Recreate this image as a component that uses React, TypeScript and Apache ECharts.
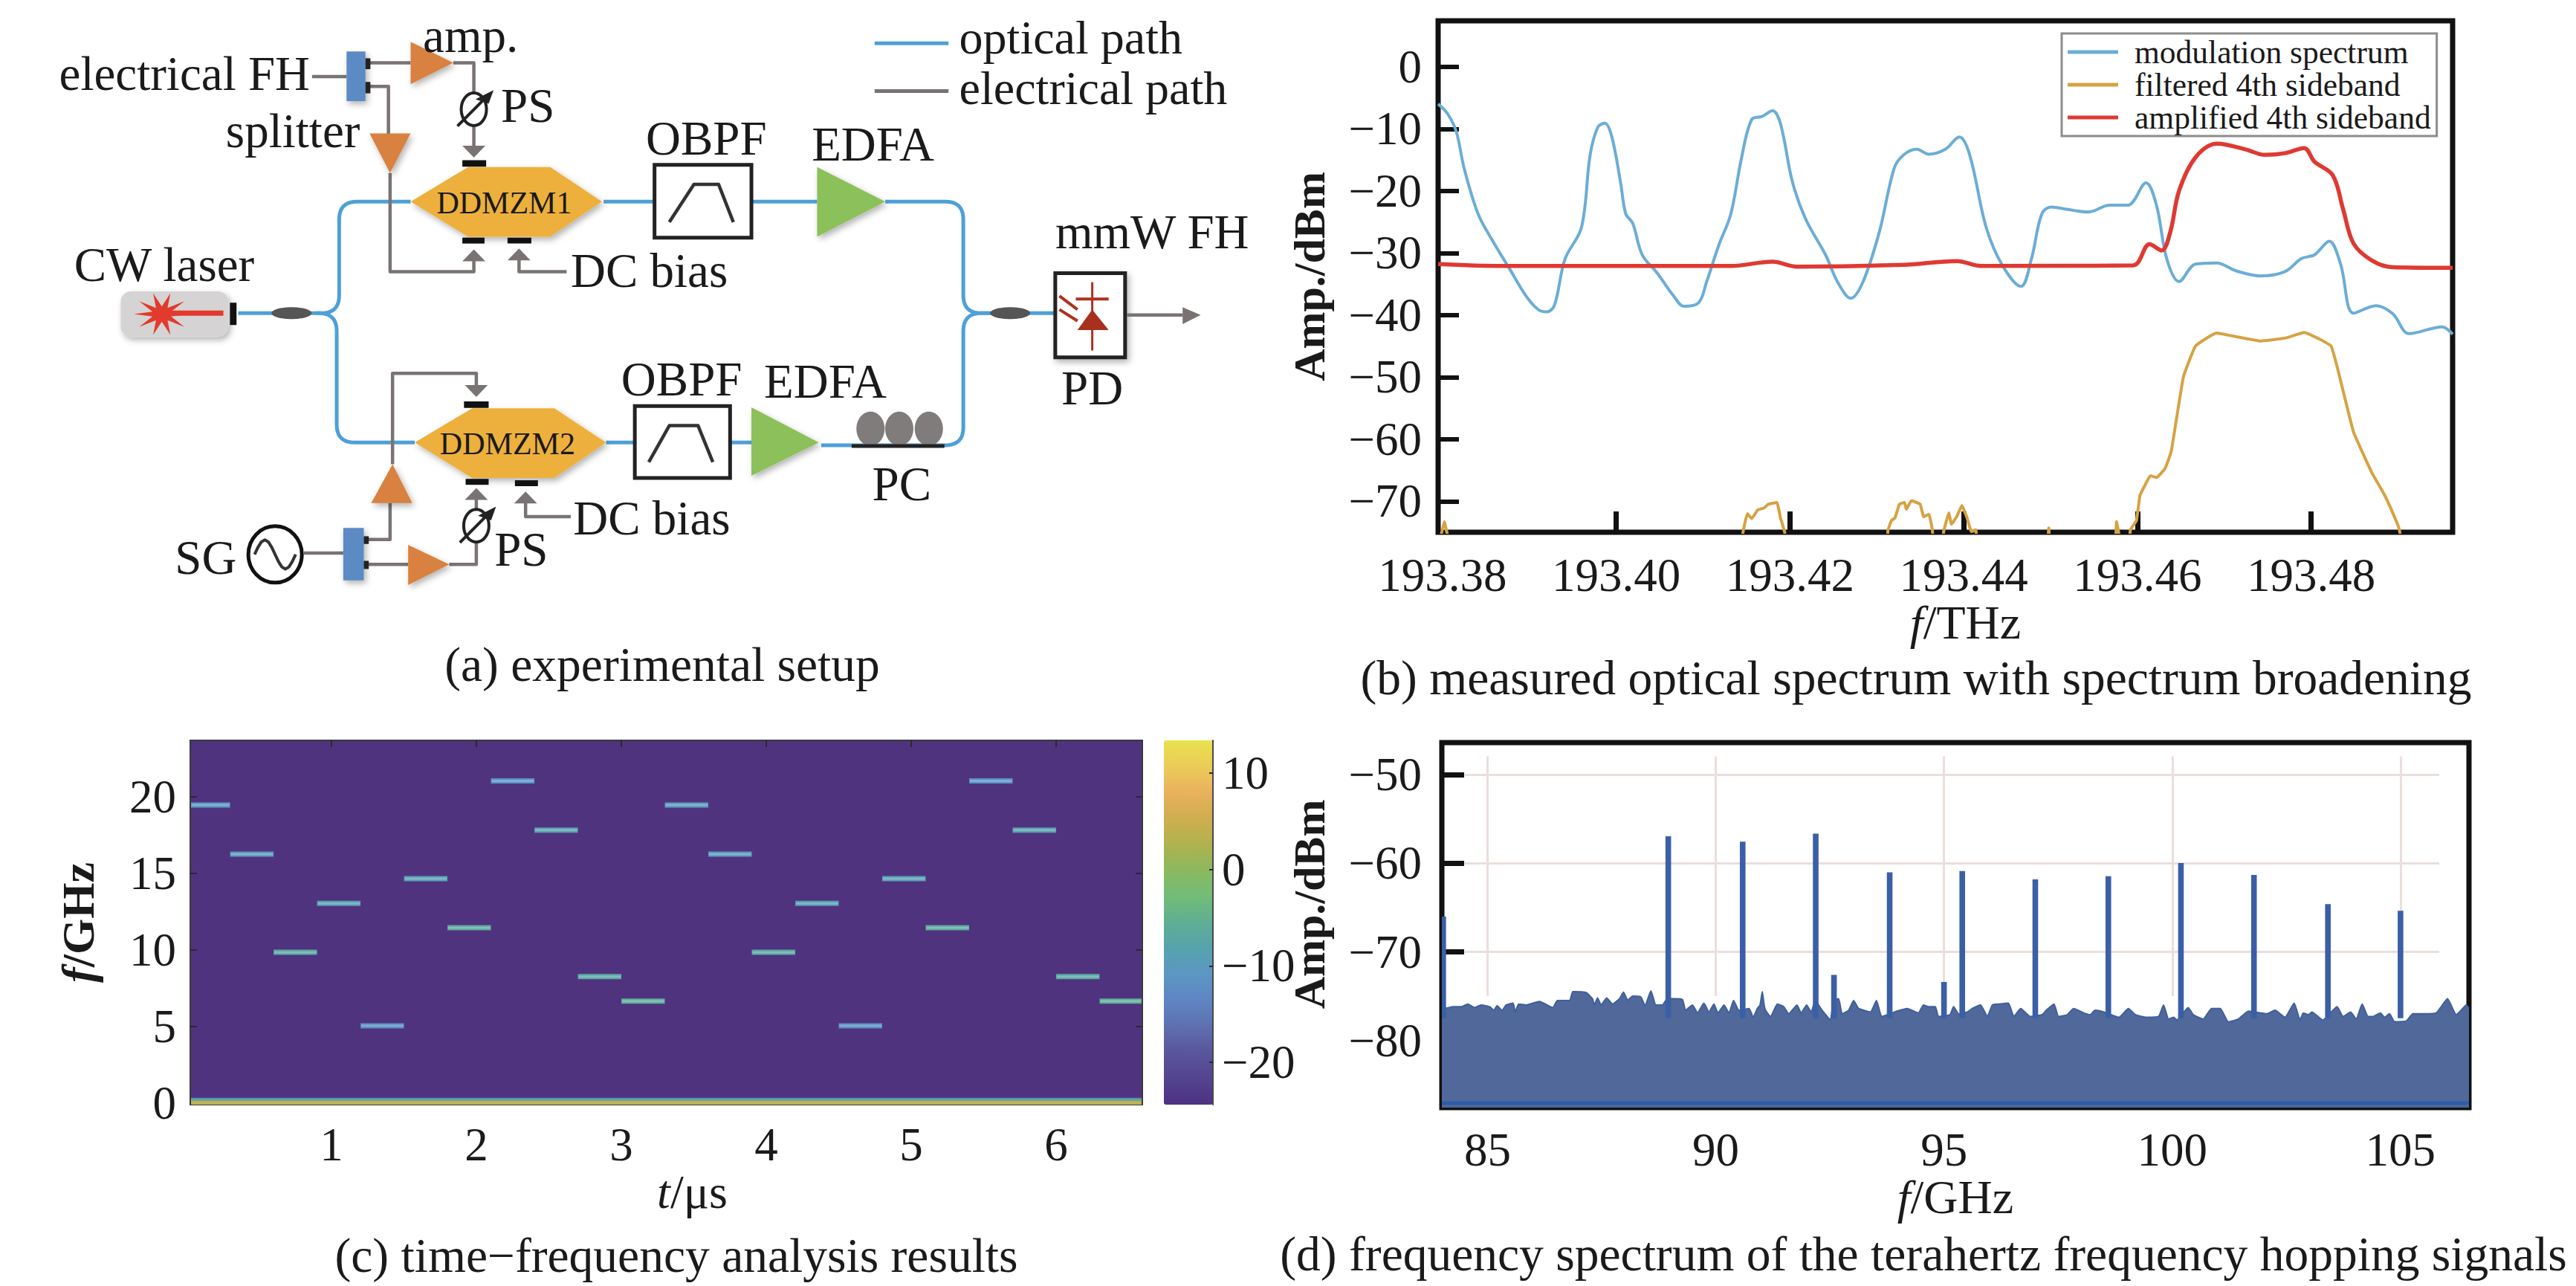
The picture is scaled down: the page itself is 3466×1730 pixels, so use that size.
import React, { useEffect, useRef } from "react";
import * as echarts from "echarts";

const SERIF = "Liberation Serif";

// ---------- (b) optical spectrum ----------
const bXTicks = [193.38, 193.4, 193.42, 193.44, 193.46, 193.48];
const bXTickMarks = [193.4, 193.42, 193.44, 193.46, 193.48];
const bYTicks = [0, -10, -20, -30, -40, -50, -60, -70];
const modulationSpectrum: [number, number][] = [
  [193.3795, -6], [193.3806, -7.6], [193.3816, -10.5], [193.3825, -16.4], [193.3841, -23.7], [193.3858, -28.1],
  [193.3877, -32.5], [193.3896, -36.9], [193.391, -39.1], [193.392, -39.5], [193.3929, -38.4], [193.3941, -31],
  [193.396, -25.9], [193.397, -14.2], [193.3979, -9.7], [193.3987, -9.1], [193.3995, -11.3], [193.4005, -18.6],
  [193.4011, -23.7], [193.4019, -25.2], [193.403, -30.3], [193.4047, -33.2], [193.4066, -36.9], [193.4078, -38.6],
  [193.4095, -38], [193.4104, -34.7], [193.4118, -28.8], [193.4132, -23.7], [193.4144, -14.9], [193.4156, -8.5],
  [193.4168, -8], [193.418, -7.1], [193.4189, -9.1], [193.4203, -18.6], [193.4218, -24.5], [193.4241, -30.3],
  [193.4255, -34.7], [193.427, -37.3], [193.4284, -34.7], [193.4303, -26.6], [193.432, -16.4], [193.4331, -14.2],
  [193.4346, -13.3], [193.436, -14.1], [193.4379, -13.3], [193.4395, -11.3], [193.4407, -14.2], [193.4426, -25.9],
  [193.4445, -32.1], [193.4466, -35.4], [193.4478, -31], [193.449, -23.7], [193.4501, -22.6], [193.452, -23],
  [193.4544, -23.4], [193.4568, -22.3], [193.4589, -22.3], [193.461, -18.7], [193.4622, -22.3], [193.4634, -31],
  [193.4648, -34.6], [193.4667, -31.8], [193.4691, -31.6], [193.4714, -32.9], [193.4742, -33.7], [193.477, -33],
  [193.4789, -30.9], [193.4804, -30.3], [193.4821, -28.1], [193.4834, -31.8], [193.4849, -39.7], [193.4875, -38.5],
  [193.4894, -39.8], [193.4913, -43], [193.4951, -41.9], [193.4963, -43.1],
];
const filteredSideband: [number, number][] = [
  [193.3795, -78], [193.3802, -73.3], [193.3812, -78], [193.4143, -78], [193.4146, -75], [193.4151, -72], [193.4156, -72.8],
  [193.4163, -71.4], [193.417, -71.1], [193.4175, -70.5], [193.4185, -70.2], [193.4189, -72.6], [193.4194, -75], [193.4197, -78],
  [193.431, -78], [193.4313, -74.6], [193.4317, -73.1], [193.4321, -72.7], [193.4326, -70.5], [193.4332, -70.2], [193.4334, -71.3],
  [193.434, -69.9], [193.435, -70.5], [193.4354, -72.5], [193.436, -72.1], [193.4364, -74.6], [193.4366, -78], [193.4375, -78],
  [193.4377, -74.9], [193.4383, -71.9], [193.4386, -73.7], [193.4392, -72.5], [193.4398, -70.7], [193.4404, -72.7], [193.4409, -74.9],
  [193.4414, -74.6], [193.4417, -78], [193.4495, -78], [193.4498, -74.3], [193.4501, -78], [193.4573, -78], [193.4576, -73.3], [193.458, -76], [193.459, -78],
  [193.4592, -74.6], [193.4599, -73.1], [193.4603, -69.1], [193.461, -67.1], [193.4615, -65.9], [193.4622, -66.2], [193.4632, -64.7],
  [193.4639, -62], [193.4653, -50], [193.4667, -45], [193.4691, -42.9], [193.4714, -43.5], [193.4742, -44.2], [193.4771, -43.7],
  [193.4792, -42.8], [193.4823, -45], [193.4837, -52.3], [193.4849, -58.9], [193.487, -65.4], [193.4885, -69.1], [193.4899, -73.5],
  [193.4902, -74.8], [193.4906, -78], [193.4963, -78],
];
const amplifiedSideband: [number, number][] = [
  [193.3795, -31.8], [193.3868, -32.1], [193.4, -32.1], [193.4132, -32.1], [193.418, -31.4], [193.4208, -32.2],
  [193.4331, -31.9], [193.4392, -31.3], [193.442, -32.1], [193.4595, -32], [193.4614, -28.6], [193.4628, -29.6],
  [193.4638, -26.6], [193.4648, -20], [193.4667, -14.6], [193.4692, -12.4], [193.4724, -13.3], [193.4747, -14.2],
  [193.4771, -13.9], [193.4792, -13.1], [193.4804, -15.3], [193.4825, -17.5], [193.4837, -23], [193.4849, -28.5],
  [193.487, -31.2], [193.4894, -32.3], [193.4963, -32.4],
];

// ---------- (c) time-frequency map ----------
const cXTicks = [1, 2, 3, 4, 5, 6];
const cYTicks = [0, 5, 10, 15, 20];
const cbTicks = [10, 0, -10, -20];
const hopStart = [0.03, 0.3, 0.6, 0.9, 1.2, 1.5, 1.8, 2.1, 2.4, 2.7, 3.0, 3.3, 3.6, 3.9, 4.2, 4.5, 4.8, 5.1, 5.4, 5.7, 6.0, 6.3];
const hopEnd = [0.3, 0.6, 0.9, 1.2, 1.5, 1.8, 2.1, 2.4, 2.7, 3.0, 3.3, 3.6, 3.9, 4.2, 4.5, 4.8, 5.1, 5.4, 5.7, 6.0, 6.3, 6.59];
const hopFreq = [19.45, 16.24, 9.83, 13.02, 5.03, 14.64, 11.43, 21.02, 17.81, 8.24, 6.64, 19.45, 16.24, 9.83, 13.02, 5.03, 14.64, 11.43, 21.02, 17.81, 8.24, 6.64];
const hopPower = [-10.5, -10, -7, -9, -12, -9, -6.5, -11, -8.5, -7, -6, -10, -10, -7, -9, -12, -9, -6.5, -11, -8.5, -7, -6];
const baseBandFreq = [0, 0.195, 0.3];
const baseBandPower = [4, -7, -15];
const baseBandThick = [0.24, 0.15, 0.06];
const colorStops = ["#4e3184", "#53448f", "#5a559c", "#5e6fb0", "#5f85c2", "#5c96c4", "#56a3ae", "#5fae94", "#72bc78", "#8bb95f", "#b0b24f", "#cfae4f", "#e9b15e", "#eccb58", "#e8e24e"];

// ---------- (d) frequency spectrum ----------
const dXTicks = [85, 90, 95, 100, 105];
const dYTicks = [-50, -60, -70, -80];
const dGridX = [85, 90, 95, 100, 105];
const dGridY = [-50, -60, -70];
const floorBand: [number, number][] = [[84, -87.1], [106.5, -87.1]];
const noiseFloor: [number, number][] = [
  [84.0, -76.4], [84.06, -76.4], [84.25, -76.2], [84.43, -76.2], [84.57, -75.9], [84.72, -76.3], [84.86, -76], [85.05, -76.2], [85.14, -76.6], [85.21, -76.1],
  [85.32, -76.6], [85.41, -76], [85.56, -75.8], [85.61, -76.8], [85.68, -75.9], [85.85, -76], [86.14, -75.6], [86.43, -76.3], [86.53, -75.5], [86.8, -75.5],
  [86.87, -74.5], [87.16, -74.6], [87.3, -75.3], [87.34, -76], [87.41, -75.2], [87.49, -76], [87.61, -75.2], [87.74, -75.9], [87.89, -75.3], [87.98, -74.55],
  [88.07, -75.45], [88.18, -75], [88.36, -75.1], [88.45, -76.1], [88.58, -74.4], [88.69, -76], [88.83, -76], [88.94, -75.3], [89.09, -75.3], [89.27, -75.4],
  [89.34, -76.6], [89.49, -76], [89.6, -76.9], [89.74, -75.8], [89.85, -76.8], [89.96, -75.9], [90.05, -76.9], [90.18, -76], [90.29, -76.9], [90.39, -75.5],
  [90.51, -76.6], [90.73, -76.4], [90.82, -77.4], [90.91, -76.4], [90.97, -76], [91.02, -74.5], [91.06, -76], [91.09, -76.6], [91.2, -77.3], [91.35, -75.9], [91.49, -76.2],
  [91.6, -77], [91.78, -76], [91.87, -76.9], [91.99, -76], [92.09, -76.8], [92.18, -75.5], [92.33, -76.6], [92.51, -77.65], [92.58, -75.5], [92.69, -75.3],
  [92.77, -77], [92.91, -76.6], [93.02, -75.5], [93.13, -76.4], [93.39, -76.8], [93.52, -75.5], [93.64, -77.3], [93.97, -76.7], [94.19, -76.4], [94.44, -76.9],
  [94.55, -76], [94.66, -76.2], [94.81, -76.2], [94.88, -77.3], [95.13, -77.1], [95.21, -76.2], [95.32, -77], [95.51, -76.8], [95.62, -76.4], [95.8, -76],
  [95.95, -77.3], [96.06, -76], [96.2, -75.9], [96.41, -75.8], [96.53, -77.3], [96.68, -76.4], [96.89, -77.3], [97.15, -77.1], [97.24, -76.6], [97.41, -75.9],
  [97.51, -77.3], [97.7, -77.1], [97.84, -76.4], [98.06, -76.9], [98.2, -77.1], [98.31, -76.6], [98.5, -76.8], [98.83, -77.4], [99.04, -76.4], [99.19, -77.1],
  [99.44, -77.4], [99.7, -77.3], [99.81, -76], [99.92, -77.6], [100.03, -77.4], [100.1, -77.7], [100.35, -76.3], [100.46, -77.1], [100.68, -77.6], [100.86, -76.4],
  [101.05, -76.4], [101.23, -77.9], [101.45, -77.6], [101.67, -76.7], [102.07, -77], [102.25, -76.6], [102.47, -77.4], [102.67, -75.8], [102.8, -77.7], [102.87, -76.9],
  [102.98, -77.1], [103.06, -76.8], [103.3, -77.7], [103.61, -76.2], [103.74, -77.3], [103.91, -76.8], [104.03, -77.6], [104.16, -75.9], [104.29, -77.3], [104.4, -77.3],
  [104.56, -76.9], [104.65, -77.4], [104.76, -77], [104.87, -77.9], [105.13, -77.8], [105.27, -77], [105.45, -77], [105.78, -76.9], [106.03, -75.3], [106.22, -77.1],
  [106.33, -76.6], [106.44, -76], [106.5, -76.4],
];
const hopPeaks: [number, number][] = [
  [84.03, -66], [88.96, -56.93], [90.59, -57.55], [92.19, -56.64], [92.59, -72.6], [93.81, -61], [95.0, -73.4], [95.4, -60.87],
  [97.0, -61.8], [98.6, -61.45], [100.19, -59.96], [101.79, -61.3], [103.41, -64.6], [105.0, -65.35],
];

const fmtMinus = (v: number) => String(v).replace("-", "−");

// ---------- (a) schematic: authored in a 1568-wide helper space stretched to the page ----------
const zx = (v: number) => v / 0.905;
const zy = (v: number) => v / 1.633;
const pts = (arr: number[][]) => arr.map(([x, y]) => [zx(x), zy(y)]);
const BLUE = "#4ea0d8";
const GRAY = "#7a7373";
const ORANGE = "#d9813f";
const GREEN = "#8cc05a";
const GOLD = "#edb03e";
const SHADOW = { shadowBlur: 8, shadowColor: "rgba(0,0,0,0.3)", shadowOffsetX: 3, shadowOffsetY: 4 };

function rounded(arr: number[][], r: number) {
  const p = pts(arr);
  const out: number[][] = [p[0]];
  for (let i = 1; i < p.length - 1; i++) {
    const [a, b, c] = [p[i - 1], p[i], p[i + 1]];
    const d1 = Math.hypot(a[0] - b[0], a[1] - b[1]);
    const d2 = Math.hypot(c[0] - b[0], c[1] - b[1]);
    const s = [b[0] + ((a[0] - b[0]) * r) / d1, b[1] + ((a[1] - b[1]) * r) / d1];
    const e = [b[0] + ((c[0] - b[0]) * r) / d2, b[1] + ((c[1] - b[1]) * r) / d2];
    for (let t = 0; t <= 1.001; t += 0.1) {
      out.push([
        (1 - t) * (1 - t) * s[0] + 2 * t * (1 - t) * b[0] + t * t * e[0],
        (1 - t) * (1 - t) * s[1] + 2 * t * (1 - t) * b[1] + t * t * e[1],
      ]);
    }
  }
  out.push(p[p.length - 1]);
  return out;
}
const pl = (points: number[][], stroke: string, lineWidth: number) => ({
  type: "polyline", silent: true, shape: { points }, style: { stroke, lineWidth, fill: "none", lineJoin: "round" },
});
const line = (arr: number[][], stroke = GRAY, w = 4.5) => pl(pts(arr), stroke, w);
const poly = (arr: number[][], fill: string, extra: any = {}) => ({
  type: "polygon", silent: true, shape: { points: pts(arr) }, style: { fill, ...extra },
});
const box = (x0: number, y0: number, x1: number, y1: number, fill: string, extra: any = {}) => ({
  type: "rect", silent: true, shape: { x: zx(x0), y: zy(y0), width: zx(x1 - x0), height: zy(y1 - y0), ...(extra.r ? { r: extra.r } : {}) },
  style: { fill, ...extra.style },
});
const label = (text: string, x: number, y: number, align = "left", size = 65, more: any = {}) => ({
  type: "text", silent: true, x: zx(x), y: zy(y),
  style: { text, fontSize: size, fontFamily: SERIF, fill: "#1a1a1a", align, verticalAlign: "middle", textAlign: align, textVerticalAlign: "middle", ...more },
});
const arrowDown = (x: number, y: number) => poly([[x - 14, y - 26], [x + 14, y - 26], [x, y]], GRAY);
const arrowUp = (x: number, y: number) => poly([[x - 14, y + 26], [x + 14, y + 26], [x, y]], GRAY);
const phaseShifter = (x: number, y: number) => [
  { type: "ellipse", silent: true, shape: { cx: zx(x), cy: zy(y), rx: 17, ry: 22 }, style: { fill: "#fff", stroke: "#222", lineWidth: 4 } },
  line([[x - 20, y + 37], [x + 18, y - 32]], "#222", 4),
  poly([[x + 24, y - 42], [x + 2, y - 22], [x + 18, y - 12]], "#222"),
];
const obpf = (x0: number, y0: number, x1: number, y1: number, t: number[][]) => [
  box(x0, y0, x1, y1, "#fff", { style: { stroke: "#222", lineWidth: 5 } }),
  line(t, "#333", 4.5),
];
const sineXs = [0, 1, 2, 3, 4, 5, 6, 7, 8, 9, 10, 11, 12];
const starPts = Array.from({ length: 20 }, (_, i) => {
  const a = (i / 20) * Math.PI * 2;
  const r = i % 2 === 0 ? 40 : 14;
  return [197 + r * Math.cos(a) * 0.85, 690 + r * 1.2 * Math.sin(a)];
});

const schematic: any[] = [
  // optical
  pl(rounded([[290, 688], [413, 688], [413, 443], [500, 443]], 24), BLUE, 5),
  pl(rounded([[385, 688], [410, 688], [410, 972], [505, 972]], 24), BLUE, 5),
  pl(rounded([[1078, 443], [1173, 443], [1173, 688], [1285, 688]], 24), BLUE, 5),
  pl(rounded([[1000, 978], [1173, 978], [1173, 688], [1205, 688]], 24), BLUE, 5),
  line([[735, 443], [797, 443]], BLUE, 5),
  line([[915, 443], [995, 443]], BLUE, 5),
  line([[738, 972], [772, 972]], BLUE, 5),
  line([[889, 972], [915, 972]], BLUE, 5),
  // legend of the schematic
  line([[1065, 95], [1155, 95]], BLUE, 5),
  line([[1065, 200], [1155, 200]], GRAY, 5),
  // electrical, upper
  line([[380, 168], [422, 168]]),
  line([[445, 138], [500, 138]]),
  line([[552, 138], [577, 138], [577, 210]]),
  line([[577, 270], [577, 325]]),
  arrowDown(577, 346),
  line([[445, 190], [473, 190], [473, 295]]),
  line([[475, 380], [475, 597], [577, 597], [577, 570]]),
  arrowUp(577, 548),
  line([[690, 597], [632, 597], [632, 570]]),
  arrowUp(632, 546),
  // electrical, lower
  line([[370, 1215], [418, 1215]]),
  line([[443, 1185], [475, 1185], [475, 1105]]),
  line([[478, 1020], [478, 820], [580, 820], [580, 850]]),
  arrowDown(580, 872),
  line([[443, 1240], [497, 1240]]),
  line([[547, 1240], [580, 1240], [580, 1185]]),
  line([[580, 1125], [580, 1095]]),
  arrowUp(580, 1072),
  line([[695, 1135], [640, 1135], [640, 1105]]),
  arrowUp(640, 1080),
  // amplifiers and splitters
  poly([[500, 92], [552, 138], [500, 185]], ORANGE, SHADOW),
  poly([[450, 293], [500, 293], [475, 380]], ORANGE, SHADOW),
  poly([[452, 1105], [502, 1105], [478, 1020]], ORANGE, SHADOW),
  poly([[497, 1197], [547, 1240], [497, 1285]], ORANGE, SHADOW),
  box(422, 113, 445, 222, "#5b8ac4", { style: SHADOW }),
  box(445, 128, 451, 152, "#222"),
  box(445, 180, 451, 205, "#222"),
  box(418, 1160, 443, 1275, "#5b8ac4", { style: SHADOW }),
  box(443, 1178, 449, 1195, "#222"),
  box(443, 1232, 449, 1250, "#222"),
  ...phaseShifter(577, 240),
  ...phaseShifter(580, 1155),
  // modulators
  poly([[500, 443], [570, 367], [670, 367], [733, 443], [670, 520], [570, 520]], GOLD, SHADOW),
  box(563, 352, 592, 366, "#111"),
  box(563, 522, 590, 535, "#111"),
  box(618, 522, 647, 535, "#111"),
  poly([[505, 972], [575, 897], [675, 897], [738, 972], [675, 1050], [575, 1050]], GOLD, SHADOW),
  box(565, 882, 595, 896, "#111"),
  box(567, 1052, 595, 1065, "#111"),
  box(627, 1055, 655, 1068, "#111"),
  // filters and EDFAs
  ...obpf(797, 362, 915, 522, [[815, 488], [845, 405], [875, 405], [893, 488]]),
  ...obpf(773, 892, 889, 1050, [[790, 1015], [815, 935], [850, 935], [868, 1015]]),
  poly([[995, 367], [1078, 443], [995, 520]], GREEN, SHADOW),
  poly([[915, 895], [997, 972], [915, 1045]], GREEN, SHADOW),
  // polarization controller
  { type: "ellipse", silent: true, shape: { cx: zx(1060), cy: zy(942), rx: 19, ry: 23 }, style: { fill: "#807c7c" } },
  { type: "ellipse", silent: true, shape: { cx: zx(1095), cy: zy(942), rx: 19, ry: 23 }, style: { fill: "#807c7c" } },
  { type: "ellipse", silent: true, shape: { cx: zx(1131), cy: zy(942), rx: 19, ry: 23 }, style: { fill: "#807c7c" } },
  line([[1037, 980], [1150, 980]], "#222", 5),
  // laser
  box(147, 640, 278, 740, "#d5d3d3", { r: 14, style: SHADOW }),
  poly(starPts, "#e23a2c"),
  line([[205, 688], [272, 688]], "#e23a2c", 7),
  box(280, 665, 288, 714, "#111"),
  // couplers
  { type: "ellipse", silent: true, shape: { cx: zx(355), cy: zy(688), rx: 27, ry: 8 }, style: { fill: "#555" } },
  { type: "ellipse", silent: true, shape: { cx: zx(1230), cy: zy(688), rx: 27, ry: 8 }, style: { fill: "#555" } },
  // SG source
  { type: "ellipse", silent: true, shape: { cx: zx(335), cy: zy(1218), rx: 36, ry: 38 }, style: { fill: "#fff", stroke: "#111", lineWidth: 5 } },
  pl(pts(sineXs.map((i) => [310 + (i * 50) / 12, 1218 - 32 * Math.sin((i / 12) * 2 * Math.PI)])), "#333", 4),
  // photodiode
  box(1285, 600, 1370, 785, "#fff", { style: { stroke: "#222", lineWidth: 5, ...SHADOW } }),
  line([[1330, 620], [1330, 770]], "#b03020", 3),
  line([[1310, 657], [1350, 657]], "#b03020", 4),
  poly([[1312, 725], [1350, 725], [1330, 680]], "#a8301f"),
  line([[1290, 650], [1312, 680]], "#b03020", 4),
  line([[1290, 680], [1312, 705]], "#b03020", 4),
  line([[1372, 692], [1440, 692]]),
  poly([[1440, 675], [1462, 692], [1440, 712]], GRAY),
  // labels
  label("amp.", 515, 78),
  label("electrical FH", 72, 162),
  label("splitter", 275, 287),
  label("PS", 610, 232),
  label("OBPF", 860, 303, "center"),
  label("EDFA", 1063, 317, "center"),
  label("DDMZM1", 614, 445, "center", 42),
  label("CW laser", 200, 582, "center"),
  label("DC bias", 695, 595),
  label("mmW FH", 1285, 510),
  label("PD", 1330, 853, "center"),
  label("optical path", 1168, 82, "left", 64),
  label("electrical path", 1168, 193, "left", 64),
  label("OBPF", 830, 833, "center"),
  label("EDFA", 1005, 838, "center"),
  label("DDMZM2", 618, 975, "center", 42),
  label("PC", 1098, 1063, "center"),
  label("DC bias", 698, 1138),
  label("PS", 602, 1207),
  label("SG", 213, 1225),
];

const captions: any[] = [
  ["(a) experimental setup", 891, 894],
  ["(b) measured optical spectrum with spectrum broadening", 2578, 912],
  ["(c) time−frequency analysis results", 910, 1689],
  ["(d) frequency spectrum of the terahertz frequency hopping signals", 2588, 1687],
].map(([text, x, y]) => ({
  type: "text", silent: true, x, y,
  style: { text, fontSize: 65.5, fontFamily: SERIF, fill: "#1a1a1a", align: "center", verticalAlign: "middle", textAlign: "center", textVerticalAlign: "middle" },
}));

const tickText = { fontFamily: SERIF, fontSize: 63, color: "#1a1a1a" };
const axisName = (padding: number[], fontWeight = "normal", fontSize = 64) => ({
  fontFamily: SERIF, fontSize, fontWeight, color: "#1a1a1a", padding,
  rich: { i: { fontFamily: SERIF, fontSize, fontWeight, fontStyle: "italic", color: "#1a1a1a" } },
});

const rectItem = (params: any, api: any) => {
  const a = api.coord([api.value(0), api.value(2) + api.value(4) / 2]);
  const b = api.coord([api.value(1), api.value(2) - api.value(4) / 2]);
  const frame = params.coordSys;
  const x0 = Math.max(a[0], frame.x);
  const x1 = Math.min(b[0], frame.x + frame.width);
  const y1 = Math.min(b[1], frame.y + frame.height);
  return { type: "rect", shape: { x: x0, y: a[1], width: x1 - x0, height: y1 - a[1] }, style: { fill: api.visual("color") } };
};

const hopItem = (params: any, api: any) => {
  const base = rectItem(params, api);
  const s = base.shape;
  return {
    type: "group",
    children: [
      base,
      { type: "rect", shape: { x: s.x + 1, y: s.y + s.height * 0.3, width: s.width - 2, height: s.height * 0.4 }, style: { fill: echarts.color.lift(api.visual("color"), 0.25) } },
    ],
  };
};

const stemItem = (params: any, api: any) => {
  const top = api.coord([api.value(0), api.value(1)]);
  const bottom = api.coord([api.value(0), -77.5]);
  return { type: "rect", shape: { x: top[0] - 3.8, y: top[1], width: 7.6, height: bottom[1] - top[1] }, style: { fill: "#3b5fa6" } };
};

const hopRows = hopStart.map((t, i) => [t, hopEnd[i], hopFreq[i], hopPower[i], 0.34]);
const bandRows = baseBandFreq.map((f, i) => [0.03, 6.59, f, baseBandPower[i], baseBandThick[i]]);

const option: any = {
  animation: false,
  backgroundColor: "#fff",
  textStyle: { fontFamily: SERIF },
  graphic: { elements: [...schematic, ...captions] },
  grid: [
    { left: 1935, top: 28, width: 1365, height: 688, show: true, borderColor: "#111", borderWidth: 7, backgroundColor: "#fff" },
    { left: 256, top: 996, width: 1281, height: 490, show: true, borderColor: "#3a3a3a", borderWidth: 2, backgroundColor: "#50337f" },
    { left: 1940, top: 999, width: 1382, height: 491, show: true, borderColor: "#111", borderWidth: 7, backgroundColor: "#fff" },
    { left: 1566, top: 996, width: 66, height: 490, show: false },
  ],
  xAxis: [
    {
      gridIndex: 0, type: "value", min: 193.3795, max: 193.4963, name: "{i|f}/THz", nameLocation: "middle", nameGap: 85,
      nameTextStyle: axisName([0, 0, 0, 54]), axisLine: { show: false, onZero: false }, splitLine: { show: false },
      axisTick: { show: true, inside: true, length: 28, lineStyle: { color: "#111", width: 7 }, customValues: bXTickMarks },
      axisLabel: { ...tickText, margin: 26, customValues: bXTicks, formatter: (v: number) => v.toFixed(2) },
    },
    {
      gridIndex: 1, type: "value", min: 0.025, max: 6.595, name: "{i|t}/μs", nameLocation: "middle", nameGap: 80,
      nameTextStyle: axisName([0, 0, 0, 70]), axisLine: { show: false, onZero: false }, splitLine: { show: false },
      axisTick: { show: true, inside: true, length: 9, lineStyle: { color: "#2a2a2a", width: 2 }, customValues: cXTicks },
      axisLabel: { ...tickText, margin: 22, customValues: cXTicks },
    },
    {
      gridIndex: 1, type: "value", position: "top", min: 0.025, max: 6.595, axisLine: { show: false, onZero: false }, splitLine: { show: false },
      axisTick: { show: true, inside: true, length: 9, lineStyle: { color: "#2a2a2a", width: 2 }, customValues: cXTicks },
      axisLabel: { show: false },
    },
    {
      gridIndex: 2, type: "value", min: 84, max: 106.5, name: "{i|f}/GHz", nameLocation: "middle", nameGap: 85,
      nameTextStyle: axisName([0, 0, 0, 0]), axisLine: { show: false, onZero: false }, splitLine: { show: false },
      axisTick: { show: false },
      axisLabel: { ...tickText, margin: 25, customValues: dXTicks },
    },
    { gridIndex: 3, type: "value", min: 0, max: 1, axisLine: { show: false, onZero: false }, axisTick: { show: false }, axisLabel: { show: false }, splitLine: { show: false } },
  ],
  yAxis: [
    {
      gridIndex: 0, type: "value", min: -75, max: 7.4, name: "Amp./dBm", nameLocation: "middle", nameGap: 143,
      nameTextStyle: { fontFamily: SERIF, fontSize: 60, fontWeight: "bold", color: "#1a1a1a" }, axisLine: { show: false, onZero: false }, splitLine: { show: false },
      axisTick: { show: true, inside: true, length: 28, lineStyle: { color: "#111", width: 6 }, customValues: bYTicks },
      axisLabel: { ...tickText, margin: 22, customValues: bYTicks, formatter: fmtMinus },
    },
    {
      gridIndex: 1, type: "value", min: -0.12, max: 23.67, name: "{i|f}/GHz", nameLocation: "middle", nameGap: 120,
      nameTextStyle: axisName([0, 0, 0, 0], "bold", 62), axisLine: { show: false, onZero: false }, splitLine: { show: false },
      axisTick: { show: true, inside: true, length: 9, lineStyle: { color: "#2a2a2a", width: 2 }, customValues: cYTicks },
      axisLabel: { ...tickText, margin: 19, customValues: cYTicks },
    },
    {
      gridIndex: 1, type: "value", position: "right", min: -0.12, max: 23.67, axisLine: { show: false, onZero: false }, splitLine: { show: false },
      axisTick: { show: true, inside: true, length: 9, lineStyle: { color: "#2a2a2a", width: 2 }, customValues: cYTicks },
      axisLabel: { show: false },
    },
    {
      gridIndex: 2, type: "value", min: -87.6, max: -46.35, name: "Amp./dBm", nameLocation: "middle", nameGap: 148,
      nameTextStyle: { fontFamily: SERIF, fontSize: 60, fontWeight: "bold", color: "#1a1a1a", padding: [0, 0, 0, 56] }, axisLine: { show: false, onZero: false }, splitLine: { show: false },
      axisTick: { show: true, inside: true, length: 30, lineStyle: { color: "#111", width: 7 }, customValues: dYTicks },
      axisLabel: { ...tickText, margin: 27, customValues: dYTicks, formatter: fmtMinus },
    },
    {
      gridIndex: 3, type: "value", position: "right", min: -24.4, max: 13.4, z: 10,
      axisLine: { show: true, onZero: false, lineStyle: { color: "#4a4a4a", width: 2 } }, splitLine: { show: false },
      axisTick: { show: true, inside: true, length: 5, lineStyle: { color: "#2a2a2a", width: 2 }, customValues: cbTicks },
      axisLabel: { ...tickText, margin: 12, customValues: cbTicks, formatter: fmtMinus },
    },
  ],
  legend: {
    left: 2774, top: 45, orient: "vertical", data: ["modulation spectrum", "filtered 4th sideband", "amplified 4th sideband"],
    backgroundColor: "#fff", borderColor: "#8c8c8c", borderWidth: 3, padding: [3, 8, 3, 8], itemGap: 0,
    icon: "rect", itemWidth: 68, itemHeight: 5, selectedMode: false,
    textStyle: { fontFamily: SERIF, fontSize: 43.5, color: "#1a1a1a", lineHeight: 40, padding: [0, 0, 0, 17] },
  },
  visualMap: {
    type: "continuous", seriesIndex: [3, 4], dimension: 3, min: -24.4, max: 13.4, left: 1566, top: 996, padding: 0,
    itemWidth: 66, itemHeight: 490, calculable: false, hoverLink: false, text: ["", ""], showLabel: false,
    inRange: { color: colorStops }, textStyle: { fontSize: 1, color: "transparent" },
  },
  series: [
    {
      name: "modulation spectrum", type: "line", xAxisIndex: 0, yAxisIndex: 0, data: modulationSpectrum, symbol: "none", smooth: 0.35,
      lineStyle: { color: "#6badd6", width: 4 }, itemStyle: { color: "#6badd6" }, clip: true,
    },
    {
      name: "filtered 4th sideband", type: "line", xAxisIndex: 0, yAxisIndex: 0, data: filteredSideband, symbol: "none", smooth: 0.1,
      lineStyle: { color: "#d6a243", width: 4 }, itemStyle: { color: "#d6a243" }, clip: true,
    },
    {
      name: "amplified 4th sideband", type: "line", xAxisIndex: 0, yAxisIndex: 0, data: amplifiedSideband, symbol: "none", smooth: 0.35,
      lineStyle: { color: "#de3a32", width: 5.5 }, itemStyle: { color: "#de3a32" }, clip: true,
    },
    { name: "hops", type: "custom", xAxisIndex: 1, yAxisIndex: 1, data: hopRows, renderItem: hopItem, encode: { x: [0, 1], y: 2 }, silent: true },
    { name: "zero band", type: "custom", xAxisIndex: 1, yAxisIndex: 1, data: bandRows, renderItem: rectItem, encode: { x: [0, 1], y: 2 }, silent: true },
    {
      name: "noise", type: "line", xAxisIndex: 3, yAxisIndex: 3, data: noiseFloor, symbol: "none", smooth: 0.15, z: 3,
      lineStyle: { color: "#3f5f9d", width: 2 }, areaStyle: { color: "#50689a", origin: "start", opacity: 1 }, clip: true, silent: true,
      markLine: {
        silent: true, symbol: "none", label: { show: false }, animation: false, lineStyle: { color: "#eadfdc", width: 3, type: "solid" },
        data: [
          ...dGridX.map((x) => [{ coord: [x, -47.9] }, { coord: [x, -75] }]),
          ...dGridY.map((y) => [{ coord: [84.5, y] }, { coord: [105.85, y] }]),
        ],
        z: 1,
      },
    },
    { name: "hop peaks", type: "custom", xAxisIndex: 3, yAxisIndex: 3, data: hopPeaks, renderItem: stemItem, silent: true, z: 4, clip: true },
    { name: "floor band", type: "line", xAxisIndex: 3, yAxisIndex: 3, data: floorBand, symbol: "none", lineStyle: { color: "#2f5ca8", width: 5 }, silent: true, z: 4 },
  ],
};

export default function App() {
  const ref = useRef<HTMLDivElement>(null);
  useEffect(() => {
    const chart = echarts.init(ref.current!, undefined, { renderer: "svg" });
    chart.setOption(option);
    return () => chart.dispose();
  }, []);
  return <div ref={ref} style={{ position: "fixed", left: 0, top: 0, width: 3466, height: 1730, background: "#fff" }} />;
}
